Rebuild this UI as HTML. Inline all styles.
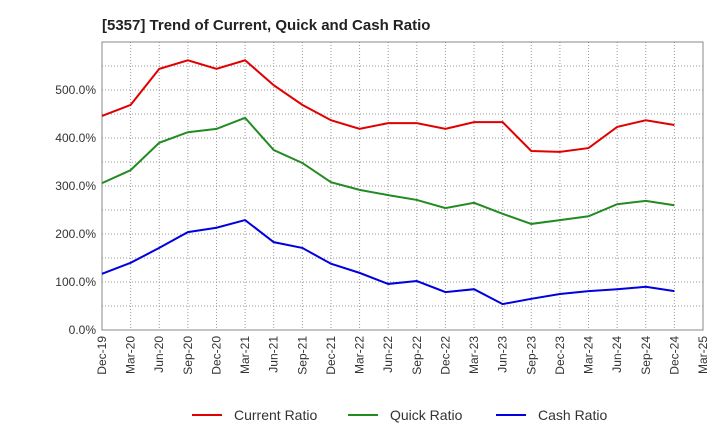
<!DOCTYPE html>
<html><head><meta charset="utf-8"><style>
body{margin:0;background:#fff;font-family:"Liberation Sans",sans-serif}
</style></head><body>
<svg id="c" width="720" height="440" xmlns="http://www.w3.org/2000/svg">
<text x="102" y="30" font-size="15" font-weight="bold" fill="#222">[5357]  Trend of Current, Quick and Cash Ratio</text>
</svg>
<script>
const categories=["Dec-19","Mar-20","Jun-20","Sep-20","Dec-20","Mar-21","Jun-21","Sep-21","Dec-21","Mar-22","Jun-22","Sep-22","Dec-22","Mar-23","Jun-23","Sep-23","Dec-23","Mar-24","Jun-24","Sep-24","Dec-24","Mar-25"];
const currentRatio=[446,469,544,562,544,562,510,469,437,419,431,431,419,433,433,373,371,379,423,437,427];
const quickRatio=[306,333,390,412,419,442,375,348,308,292,281,271,254,265,242,221,229,237,262,269,260];
const cashRatio=[117,140,171,204,213,229,183,171,138,119,96,102,79,85,54,65,75,81,85,90,81];
const yTicks=[0,100,200,300,400,500];
const ns="http://www.w3.org/2000/svg",svg=document.getElementById('c');
const L=102,R=703,T=42,B=330,yMax=600;
const x=i=>L+(R-L)*i/(categories.length-1);
const y=v=>B-(B-T)*v/yMax;
function mk(t,a){const e=document.createElementNS(ns,t);for(const k in a)e.setAttribute(k,a[k]);svg.appendChild(e);return e;}
// grid
for(let i=0;i<categories.length;i++){
 const g=mk('line',{x1:x(i),x2:x(i),y1:T,y2:B,stroke:'#999','stroke-dasharray':'1,2','stroke-width':1});
 
 
 const t=mk('text',{x:0,y:0,'font-size':12,fill:'#333','text-anchor':'end',transform:`translate(${x(i)+4},${B+6}) rotate(-90)`});
 t.textContent=categories[i];
 
 
}
for(let v=0;v<=yMax;v+=50){
 const g=mk('line',{x1:L,x2:R,y1:y(v),y2:y(v),stroke:'#999','stroke-dasharray':'1,2','stroke-width':1});
 
 
}
yTicks.forEach(v=>{
 const t=mk('text',{x:L-6,y:y(v)+4,'font-size':12,fill:'#333','text-anchor':'end'});
 t.textContent=v.toFixed(1)+'%';
 
 
});
const fr=mk('rect',{x:L,y:T,width:R-L,height:B-T,fill:'none',stroke:'#888'});


const series=[[currentRatio,'#e00000','current-ratio-line','Current Ratio'],[quickRatio,'#228b22','quick-ratio-line','Quick Ratio'],[cashRatio,'#0000e0','cash-ratio-line','Cash Ratio']];
series.forEach(([d,c,n])=>{
 const p=mk('polyline',{points:d.map((v,i)=>x(i)+','+y(v)).join(' '),fill:'none',stroke:c,'stroke-width':2});
 
 
});
const lx=[192,348,496];
series.forEach(([d,c,n,label],k)=>{
 const l=mk('line',{x1:lx[k],x2:lx[k]+30,y1:415,y2:415,stroke:c,'stroke-width':2});
 
 
 const t=mk('text',{x:lx[k]+42,y:420,'font-size':14,fill:'#333'});
 t.textContent=label;
 
 
});
</script>
</body></html>
